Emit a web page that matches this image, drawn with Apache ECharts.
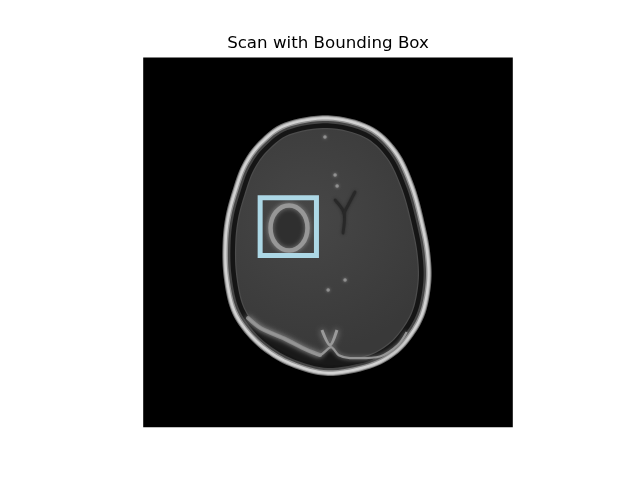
<!DOCTYPE html>
<html>
<head>
<meta charset="utf-8">
<title>Scan with Bounding Box</title>
<script src="https://cdn.jsdelivr.net/npm/echarts@6/dist/echarts.min.js"></script>
<style>
  html, body { margin: 0; padding: 0; background: #ffffff; }
  #main { width: 640px; height: 480px; }
</style>
</head>
<body>
<div id="main"></div>
<script>
// image is 256 x 256 pixels, origin top-left (like imshow)
var imageSize = 256;

// outer edge of the scalp, clockwise from the top
var headOutline = [[128,40],[157,47],[176,64],[188,89],[195.5,117],[199,137],[199.5,156],[195.5,177],
    [187,193],[175,206],[157,215.5],[128,220.5],[102,214],[83,203],[69,189],[60,173],[55.5,150],
    [55,128],[57,110],[61.5,93],[68.5,74],[80,58],[98,45]];

// lower edge of the occipital lobes and the dark gap under them
var lobeEdge = [[72.6,180.4],[81.5,187.5],[97.5,194.5],[113.5,202.5],[122.5,206.0],[130.1,200.5],
    [135.5,206.2],[143.2,208.1],[164.0,207.0],[176.5,199.0],[182.5,190.0]];
var gapFloor = [[178.6,196.0],[166.8,204.2],[153.6,211.0],[129.4,213.0],[108.6,209.5],
    [96.1,203.0],[85.1,196.3],[74.7,183.8]];
var falx = [[123.8,188.7],[129.4,199.1],[134.2,188.7]];

// Y shaped ventricle
var ventricleLeft = [[132.9,98.6],[139.1,107.6],[138.4,121.5]];
var ventricleRight = [[146.7,93.1],[139.1,107.6]];

var brightSpots = [[125.9,55.0],[132.9,81.3],[134.3,88.9],[128.1,161.0],[139.8,154.0]];

// lesion ring
var tumorCenter = [101, 118];
var tumorRadius = [12.8, 15.6];

// bounding box [x0, y0, x1, y1]
var boundingBox = [81, 97, 120, 137];

// pixel offset of a closed outline towards its centre
function inset(pts, d) {
    var n = pts.length, cx = 0, cy = 0, out = [];
    pts.forEach(function (p) { cx += p[0] / n; cy += p[1] / n; });
    for (var i = 0; i < n; i++) {
        var a = pts[(i - 1 + n) % n], b = pts[(i + 1) % n], p = pts[i];
        var tx = b[0] - a[0], ty = b[1] - a[1], len = Math.sqrt(tx * tx + ty * ty);
        var nx = -ty / len, ny = tx / len;
        if (nx * (cx - p[0]) + ny * (cy - p[1]) < 0) { nx = -nx; ny = -ny; }
        out.push([p[0] + nx * d, p[1] + ny * d]);
    }
    return out;
}

// smooth closed curve through the outline points (drawing only)
function closedCurve(pts) {
    var n = pts.length, out = [];
    for (var i = 0; i < n; i++) {
        var p0 = pts[(i - 1 + n) % n], p1 = pts[i], p2 = pts[(i + 1) % n], p3 = pts[(i + 2) % n];
        var c1 = [p1[0] + (p2[0] - p0[0]) / 6, p1[1] + (p2[1] - p0[1]) / 6];
        var c2 = [p2[0] - (p3[0] - p1[0]) / 6, p2[1] - (p3[1] - p1[1]) / 6];
        for (var k = 0; k < 8; k++) {
            var t = k / 8, u = 1 - t;
            out.push([
                u * u * u * p1[0] + 3 * u * u * t * c1[0] + 3 * u * t * t * c2[0] + t * t * t * p2[0],
                u * u * u * p1[1] + 3 * u * u * t * c1[1] + 3 * u * t * t * c2[1] + t * t * t * p2[1]
            ]);
        }
    }
    return out;
}

function renderHead(params, api) {
    var toPx = function (list) { return list.map(function (p) { return api.coord(p); }); };
    var pts = closedCurve(toPx(headOutline));
    var brain = new echarts.graphic.RadialGradient(0.4, 0.38, 0.75, [
        { offset: 0, color: '#474747' }, { offset: 1, color: '#393939' }]);
    var layers = [[0, '#707070'], [1.0, '#b8b8b8'], [2.0, '#d2d2d2'], [4.2, '#939393'],
        [5.6, '#464646'], [8.0, '#151515'], [12.6, '#4c4c4c'], [13.8, brain]];
    var children = layers.map(function (l) {
        return { type: 'polygon', shape: { points: inset(pts, l[0]) }, style: { fill: l[1] } };
    });
    children.push({ type: 'polygon', shape: { points: toPx(lobeEdge.concat(gapFloor)), smooth: 0.3 },
        style: { fill: '#191919', shadowBlur: 3, shadowColor: '#191919' } });
    children.push({ type: 'polyline', shape: { points: toPx(lobeEdge.slice(0, 5)), smooth: 0.3 },
        style: { stroke: '#8a8a8a', lineWidth: 4, fill: null, lineCap: 'round',
            shadowBlur: 6, shadowColor: '#8a8a8a' } });
    children.push({ type: 'polyline', shape: { points: toPx(lobeEdge), smooth: 0.3 },
        style: { stroke: '#959595', lineWidth: 2.2, fill: null, shadowBlur: 4, shadowColor: '#8e8e8e' } });
    children.push({ type: 'polyline', shape: { points: toPx(falx), smooth: 0.3 },
        style: { stroke: '#9a9a9a', lineWidth: 3, fill: null, shadowBlur: 6, shadowColor: '#9a9a9a' } });
    [ventricleLeft, ventricleRight].forEach(function (v) {
        children.push({ type: 'polyline', shape: { points: toPx(v), smooth: 0.3 },
            style: { stroke: '#282828', lineWidth: 2.8, fill: null, lineCap: 'round',
                shadowBlur: 3, shadowColor: '#282828' } });
    });
    var c = api.coord(tumorCenter);
    var r = api.size(tumorRadius);
    children.push({ type: 'ellipse', shape: { cx: c[0], cy: c[1], rx: r[0], ry: r[1] },
        style: { fill: '#2f2f2f', stroke: '#979797', lineWidth: 4.5, shadowBlur: 5, shadowColor: '#808080' } });
    return { type: 'group', children: children };
}

function renderBox(params, api) {
    var p0 = api.coord([boundingBox[0], boundingBox[1]]);
    var p1 = api.coord([boundingBox[2], boundingBox[3]]);
    return { type: 'rect',
        shape: { x: p0[0], y: p0[1], width: p1[0] - p0[0], height: p1[1] - p0[1] },
        style: { fill: null, stroke: '#add8e6', lineWidth: 5 } };
}

var option = {
    animation: false,
    backgroundColor: '#ffffff',
    graphic: [{
        type: 'text', x: 328, y: 44,
        style: { text: 'Scan with Bounding Box', fill: '#000000', font: '16.67px "DejaVu Sans"',
            align: 'center', verticalAlign: 'middle' }
    }],
    grid: { left: 143.2, top: 57.6, width: 369.6, height: 369.6, show: true,
        backgroundColor: '#000000', borderWidth: 0 },
    xAxis: { type: 'value', min: 0, max: imageSize, show: false },
    yAxis: { type: 'value', min: 0, max: imageSize, inverse: true, show: false },
    series: [
        { type: 'custom', name: 'head', data: [[0, 0]], renderItem: renderHead, silent: true },
        { type: 'scatter', name: 'spots', data: brightSpots, symbolSize: 3.5,
          itemStyle: { color: '#9c9c9c', shadowBlur: 3, shadowColor: '#9c9c9c' }, silent: true },
        { type: 'custom', name: 'box', data: [boundingBox], renderItem: renderBox, silent: true }
    ]
};

var myChart = echarts.init(document.getElementById('main'));
myChart.setOption(option);
</script>
</body>
</html>
